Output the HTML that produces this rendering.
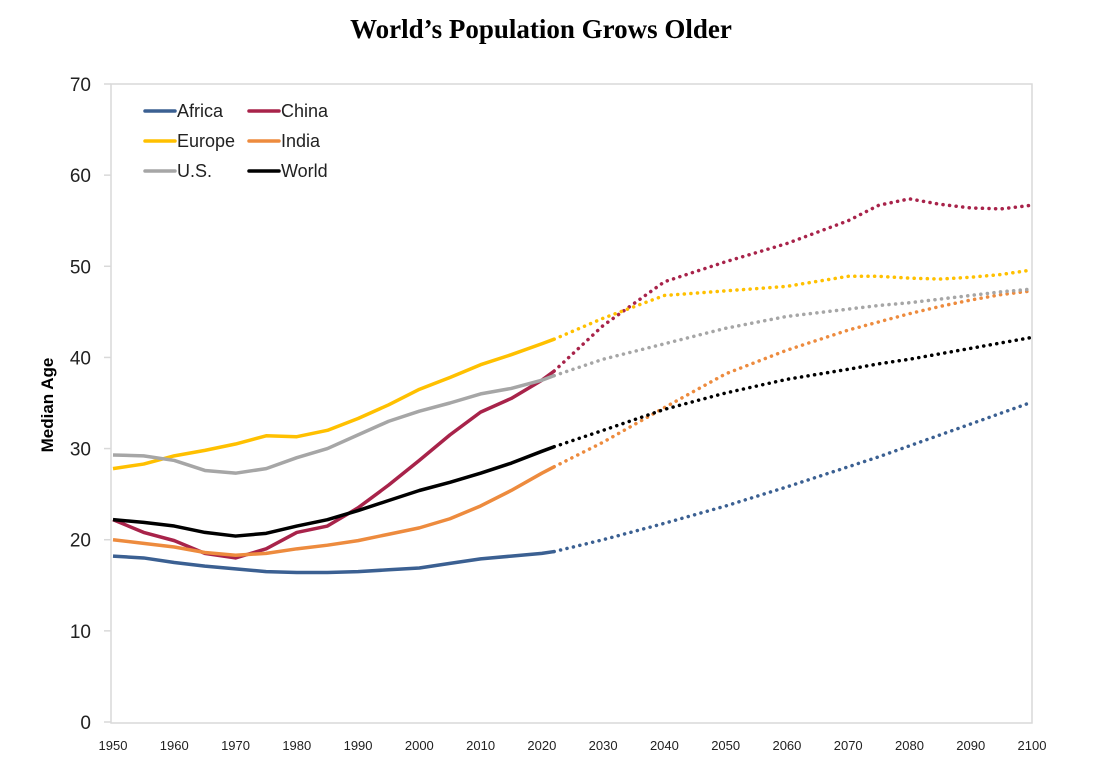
<!DOCTYPE html>
<html><head><meta charset="utf-8"><style>
body{margin:0;background:#fff;}
svg text{font-family:"Liberation Sans",sans-serif;}
</style></head><body>
<svg id="chart" width="1107" height="761">
<text x="541" y="38" text-anchor="middle" style="font-family:'Liberation Serif',serif;font-weight:bold;font-size:27px">World’s Population Grows Older</text>
<text transform="translate(53,405) rotate(-90)" text-anchor="middle" font-weight="bold" font-size="17">Median Age</text>
<rect x="111" y="84" width="921" height="639" fill="none" stroke="#d9d9d9" stroke-width="1.5"/>
<g id="axes"></g>
<g id="series"></g>
<g id="legend"></g>
</svg>
<script>
const histYears=[1950,1955,1960,1965,1970,1975,1980,1985,1990,1995,2000,2005,2010,2015,2020,2022];
const projYears=[2022,2030,2040,2050,2060,2070,2075,2080,2085,2090,2095,2100];
const seriesNames=["Africa","China","Europe","India","U.S.","World"];
const africaHist=[18.2,18.0,17.5,17.1,16.8,16.5,16.4,16.4,16.5,16.7,16.9,17.4,17.9,18.2,18.5,18.7];
const chinaHist=[22.2,20.8,19.9,18.5,18.0,19.0,20.8,21.5,23.5,26.0,28.7,31.5,34.0,35.5,37.5,38.5];
const europeHist=[27.8,28.3,29.2,29.8,30.5,31.4,31.3,32.0,33.3,34.8,36.5,37.8,39.2,40.3,41.5,42.0];
const indiaHist=[20.0,19.6,19.2,18.6,18.3,18.5,19.0,19.4,19.9,20.6,21.3,22.3,23.7,25.4,27.3,28.0];
const usHist=[29.3,29.2,28.7,27.6,27.3,27.8,29.0,30.0,31.5,33.0,34.1,35.0,36.0,36.6,37.5,38.0];
const worldHist=[22.2,21.9,21.5,20.8,20.4,20.7,21.5,22.2,23.2,24.3,25.4,26.3,27.3,28.4,29.7,30.2];
const africaProj=[18.7,20.0,21.8,23.7,25.8,28.0,29.1,30.3,31.5,32.7,33.9,35.1];
const chinaProj=[38.5,43.5,48.3,50.5,52.5,55.0,56.7,57.4,56.8,56.4,56.3,56.7];
const europeProj=[42.0,44.3,46.8,47.3,47.8,48.9,48.9,48.7,48.6,48.8,49.1,49.6];
const indiaProj=[28.0,30.7,34.5,38.2,40.8,43.0,43.9,44.8,45.6,46.3,46.9,47.3];
const usProj=[38.0,39.8,41.5,43.2,44.5,45.3,45.7,46.0,46.4,46.8,47.2,47.5];
const worldProj=[30.2,32.0,34.3,36.1,37.6,38.7,39.3,39.8,40.4,41.0,41.6,42.2];
const yTicks=[0,10,20,30,40,50,60,70];
const xTicks=[1950,1960,1970,1980,1990,2000,2010,2020,2030,2040,2050,2060,2070,2080,2090,2100];

const NS="http://www.w3.org/2000/svg";
const X=y=>113+(y-1950)*(1032-113)/150;
const Y=v=>722-v*(722-84)/70;
function mk(tag,attrs,parent){const e=document.createElementNS(NS,tag);for(const k in attrs)e.setAttribute(k,attrs[k]);parent.appendChild(e);return e;}
const axes=document.getElementById('axes');
yTicks.forEach(t=>{
  const l=mk('line',{x1:104,x2:111,y1:Y(t),y2:Y(t),stroke:'#d9d9d9','stroke-width':1.5},axes);
  
  
  const tx=mk('text',{x:91,y:Y(t)+7,'text-anchor':'end','font-size':19,fill:'#222'},axes);
  tx.textContent=t;
  
  
});
xTicks.forEach(t=>{
  const tx=mk('text',{x:X(t),y:750,'text-anchor':'middle','font-size':13,fill:'#222'},axes);
  tx.textContent=t;
  
  
});
const colors=["#3b6092","#a8234a","#ffc000","#ed8b3e","#a6a6a6","#000000"];
const hist=[africaHist,chinaHist,europeHist,indiaHist,usHist,worldHist];
const proj=[africaProj,chinaProj,europeProj,indiaProj,usProj,worldProj];
const sg=document.getElementById('series');
seriesNames.forEach((n,i)=>{
  const slug=n.toLowerCase().replace(/\W/g,'');
  const p1=mk('polyline',{points:histYears.map((y,j)=>X(y)+','+Y(hist[i][j])).join(' '),fill:'none',stroke:colors[i],'stroke-width':3.5,'stroke-linejoin':'round'},sg);
  
  
  const p2=mk('polyline',{points:projYears.map((y,j)=>X(y)+','+Y(proj[i][j])).join(' '),fill:'none',stroke:colors[i],'stroke-width':3.5,'stroke-dasharray':'0.1 6.5','stroke-linecap':'round'},sg);
  
  
});
const lg=document.getElementById('legend');
seriesNames.forEach((n,i)=>{
  const col=i%2, row=Math.floor(i/2);
  const x=145+col*104, y=111+row*30;
  const l=mk('line',{x1:x,x2:x+30,y1:y,y2:y,stroke:colors[i],'stroke-width':3.5,'stroke-linecap':'round'},lg);
  
  
  const t=mk('text',{x:x+32,y:y+6,'font-size':18,fill:'#222'},lg);
  t.textContent=n;
  
  
});
</script>
</body></html>
